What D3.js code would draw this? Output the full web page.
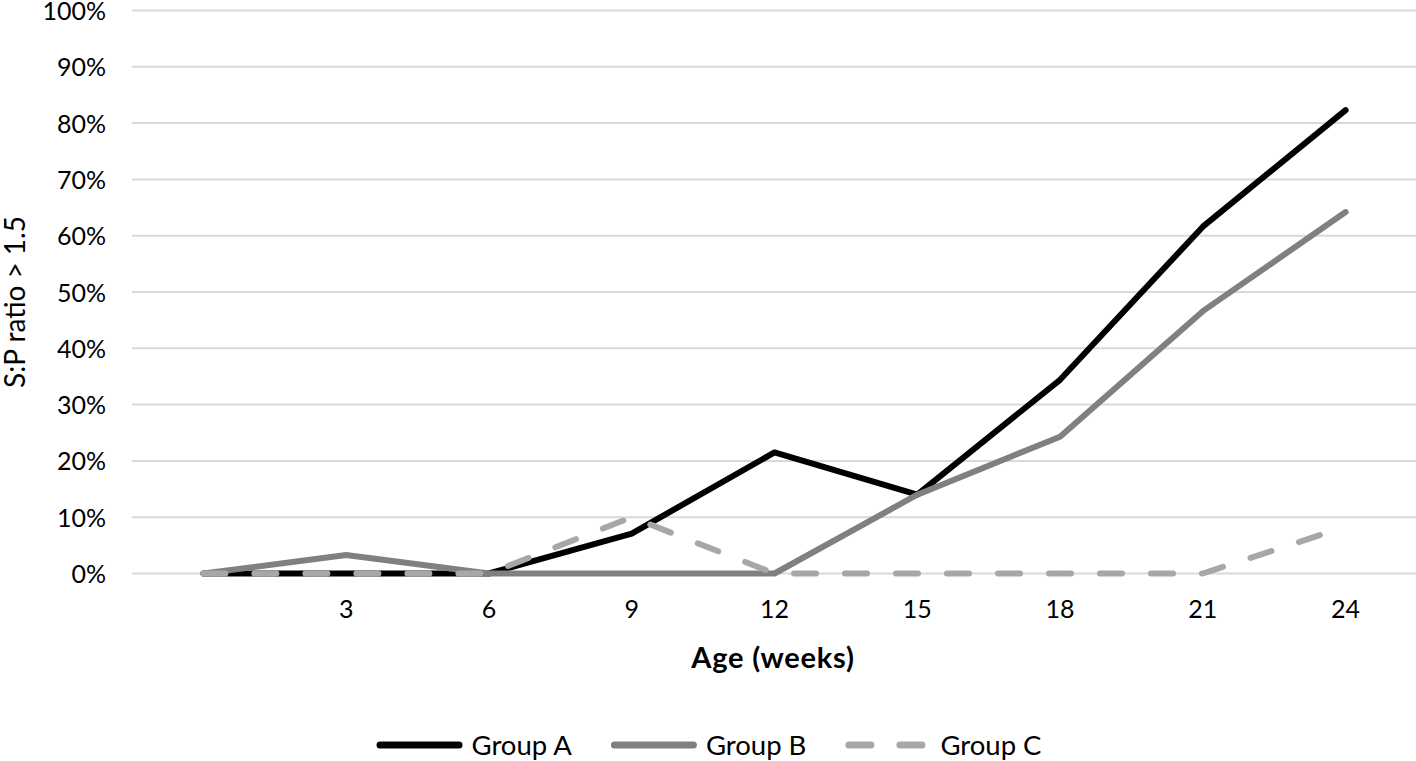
<!DOCTYPE html>
<html><head><meta charset="utf-8">
<script src="https://cdn.jsdelivr.net/npm/d3@7"></script>
<style>body{margin:0;background:#fff}svg{display:block}text{font-family:Lato,"Open Sans",sans-serif;fill:#000}</style>
</head><body><svg id="c" width="1416" height="761"></svg>
<script>
const categories = ["", "3", "6", "9", "12", "15", "18", "21", "24"];
const groupA = [0, 0, 0, 7.1, 21.5, 14.0, 34.4, 61.6, 82.3];
const groupB = [0, 3.3, 0, 0, 0, 14.0, 24.3, 46.6, 64.2];
const groupC = [0, 0, 0, 10.0, 0, 0, 0, 0, 8.3];
const yTicks = [0,10,20,30,40,50,60,70,80,90,100];
const seriesNames = ["Group A", "Group B", "Group C"];

const svg = d3.select("#c");
const x = d3.scaleBand().domain(categories.map((d,i)=>i)).range([132, 1417]);
const y = d3.scaleLinear().domain([0,100]).range([573.5, 10.5]);

// gridlines
svg.append("g").selectAll("line").data(yTicks).join("line")
  .attr("x1",132).attr("x2",1417).attr("y1",d=>y(d)).attr("y2",d=>y(d))
  .attr("stroke","#d9d9d9").attr("stroke-width",2);

// y axis
const ya = svg.append("g").attr("transform","translate(106,0)")
  .call(d3.axisLeft(y).tickValues(yTicks).tickFormat(d=>d+"%").tickSize(0).tickPadding(0));
ya.select(".domain").remove();
ya.selectAll("text").attr("font-size",25).attr("font-family","Lato").attr("fill","#000").attr("dy","0.36em");

// x axis
const xa = svg.append("g").attr("transform","translate(0,600)")
  .call(d3.axisBottom(x).tickFormat(i=>categories[i]).tickSize(0).tickPadding(0));
xa.select(".domain").remove();
xa.selectAll("text").attr("font-size",25).attr("font-family","Lato").attr("fill","#000").attr("dy","0.71em");

// titles
svg.append("text").attr("x",773).attr("y",668).attr("text-anchor","middle")
  .attr("font-size",29).attr("font-weight","bold").attr("letter-spacing",0.8).text("Age (weeks)");
svg.append("text").attr("transform","translate(25,302) rotate(-90)").attr("text-anchor","middle")
  .attr("font-size",28).text("S:P ratio > 1.5");

const styles = [
  {color:"#000000", dash:null},
  {color:"#808080", dash:null},
  {color:"#aaa6a6", dash:"22,29"}
];
const data = [groupA, groupB, groupC];
const line = d3.line().x((d,i)=>x(i)+x.bandwidth()/2).y(d=>y(d));
data.forEach((s,k)=>{
  svg.append("path").datum(s).attr("d",line).attr("fill","none")
    .attr("stroke",styles[k].color).attr("stroke-width",6)
    .attr("stroke-linejoin","round").attr("stroke-linecap","round")
    .attr("stroke-dasharray",styles[k].dash);
});

// legend
const lg = svg.append("g");
let cx = 0;
seriesNames.forEach((n,k)=>{
  const g = lg.append("g").attr("transform",`translate(${cx},0)`);
  g.append("line").attr("x1",3.5).attr("x2",82.5).attr("y1",0).attr("y2",0)
    .attr("stroke",styles[k].color).attr("stroke-width",7).attr("stroke-linecap","round")
    .attr("stroke-dasharray",styles[k].dash);
  const t = g.append("text").attr("x",95).attr("y",0).attr("dy","0.36em").attr("font-size",27.5).text(n);
  const w = t.node().getComputedTextLength();
  cx += 95 + w + 39;
});
const total = cx - 39;
lg.attr("transform",`translate(${709 - total/2},745)`);
</script></body></html>
